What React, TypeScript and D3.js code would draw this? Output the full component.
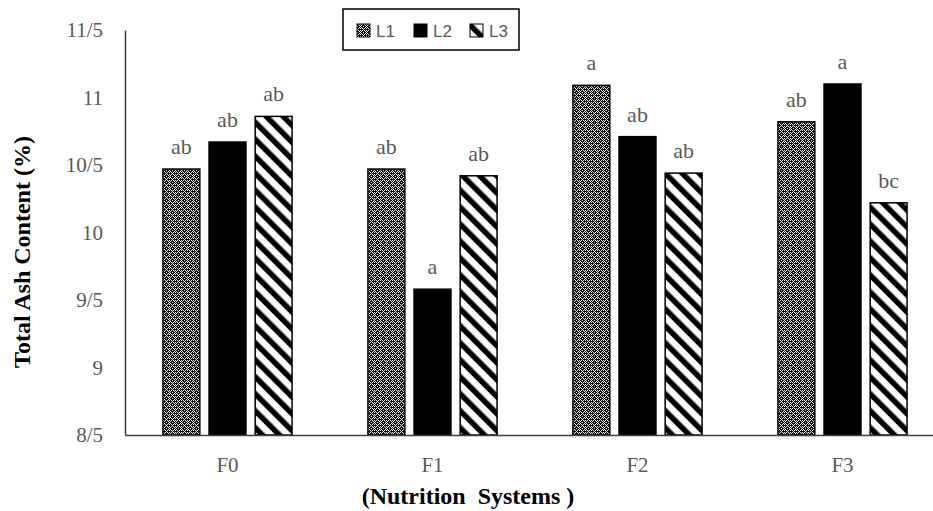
import React, { useEffect, useRef } from "react";
import * as d3 from "d3";

// data
const categories = ["F0", "F1", "F2", "F3"];
const seriesNames = ["L1", "L2", "L3"];
const L1 = [10.47, 10.47, 11.09, 10.82];
const L2 = [10.67, 9.58, 10.71, 11.1];
const L3 = [10.86, 10.42, 10.44, 10.22];
const L1Letters = ["ab", "ab", "a", "ab"];
const L2Letters = ["ab", "a", "ab", "a"];
const L3Letters = ["ab", "ab", "ab", "bc"];
const yTicks = [8.5, 9, 9.5, 10, 10.5, 11, 11.5];

const W = 933;
const H = 511;

const DrawChart = (element: any) => {
  d3.select(element).select("svg").remove();

  const svg = d3
    .select(element)
    .append("svg")
    .attr("width", W)
    .attr("height", H)
    .style("position", "absolute")
    .style("left", "0px")
    .style("top", "0px")
    .style("background", "#fff");

  const defs = svg.append("defs");

  // L1: dense lattice pattern
  const p1 = defs
    .append("pattern")
    .attr("id", "pat-l1")
    .attr("patternUnits", "userSpaceOnUse")
    .attr("width", 6)
    .attr("height", 6);
  p1.append("rect").attr("width", 6).attr("height", 6).attr("fill", "#000");
  const dots = [
    [0, 0], [2, 0], [4, 0],
    [1, 1], [5, 1],
    [0, 2], [3, 2],
    [1, 3], [5, 3],
    [0, 4], [2, 4], [4, 4],
    [3, 5],
  ];
  dots.forEach(([x, y]) => {
    p1.append("rect").attr("x", x).attr("y", y).attr("width", 1).attr("height", 1).attr("fill", "#fff");
  });

  // L3: wide downward diagonal stripes
  const p3 = defs
    .append("pattern")
    .attr("id", "pat-l3")
    .attr("patternUnits", "userSpaceOnUse")
    .attr("width", 12)
    .attr("height", 12)
    .attr("patternTransform", "rotate(-45)");
  p3.append("rect").attr("width", 12).attr("height", 12).attr("fill", "#fff");
  p3.append("rect").attr("x", 0).attr("y", 0).attr("width", 5.5).attr("height", 12).attr("fill", "#000");

  const fills = ["url(#pat-l1)", "#000", "url(#pat-l3)"];
  const values = [L1, L2, L3];
  const letters = [L1Letters, L2Letters, L3Letters];

  const x0 = d3.scaleBand().domain(categories).range([125, 945]).paddingInner(0.37).paddingOuter(0.185);
  const x1 = d3.scaleBand().domain(seriesNames).range([0, x0.bandwidth()]).paddingInner(0.2).paddingOuter(0);
  const y = d3.scaleLinear().domain([8.5, 11.5]).range([435, 30]);

  const serif = "'Liberation Serif', 'Times New Roman', serif";

  // y axis
  const yAxis = svg
    .append("g")
    .attr("transform", "translate(125,0)")
    .call(
      d3
        .axisLeft(y)
        .tickValues(yTicks)
        .tickSize(0)
        .tickPadding(22)
        .tickFormat((d: any) => String(d).replace(".", "/"))
    );
  yAxis.select(".domain").attr("stroke", "#404040").attr("stroke-width", 1.5);
  yAxis.selectAll("text").style("font-family", serif).style("font-size", "21px").attr("fill", "#595959");

  // bars
  const groups = svg
    .selectAll(".grp")
    .data(categories)
    .enter()
    .append("g")
    .attr("class", "grp")
    .attr("transform", (d) => `translate(${x0(d)},0)`);

  seriesNames.forEach((s, si) => {
    groups
      .append("rect")
      .attr("x", x1(s) as number)
      .attr("width", x1.bandwidth())
      .attr("y", (_d, i) => y(values[si][i]))
      .attr("height", (_d, i) => y(8.5) - y(values[si][i]))
      .attr("fill", fills[si])
      .attr("stroke", "#000")
      .attr("stroke-width", 1.5);

    groups
      .append("text")
      .attr("x", (x1(s) as number) + x1.bandwidth() / 2)
      .attr("y", (_d, i) => y(values[si][i]) - 15)
      .attr("text-anchor", "middle")
      .style("font-family", serif)
      .style("font-size", "22px")
      .attr("fill", "#595959")
      .text((_d, i) => letters[si][i]);
  });

  // x axis
  const xAxis = svg
    .append("g")
    .attr("transform", "translate(0,435)")
    .call(d3.axisBottom(x0).tickSize(0).tickPadding(22));
  xAxis.select(".domain").attr("stroke", "#404040").attr("stroke-width", 1.5);
  xAxis.selectAll("text").style("font-family", serif).style("font-size", "21px").attr("fill", "#595959");

  // axis titles
  svg
    .append("text")
    .attr("transform", "translate(30,252) rotate(-90)")
    .attr("text-anchor", "middle")
    .style("font-family", serif)
    .style("font-size", "24px")
    .style("font-weight", "bold")
    .attr("fill", "#000")
    .text("Total Ash Content (%)");

  svg
    .append("text")
    .attr("x", 468)
    .attr("y", 504)
    .attr("text-anchor", "middle")
    .style("font-family", serif)
    .style("font-size", "24px")
    .style("font-weight", "bold")
    .attr("fill", "#000")
    .style("white-space", "pre")
    .text("(Nutrition  Systems )");

  // legend
  const legend = svg.append("g");
  legend
    .append("rect")
    .attr("x", 343)
    .attr("y", 9)
    .attr("width", 176)
    .attr("height", 41)
    .attr("fill", "#fff")
    .attr("stroke", "#000")
    .attr("stroke-width", 1.5);
  const legX = [357, 414, 470];
  seriesNames.forEach((s, i) => {
    legend
      .append("rect")
      .attr("x", legX[i])
      .attr("y", 24)
      .attr("width", 13)
      .attr("height", 13)
      .attr("fill", fills[i])
      .attr("stroke", "#000")
      .attr("stroke-width", 1);
    legend
      .append("text")
      .attr("x", legX[i] + 19)
      .attr("y", 37)
      .style("font-family", "'Liberation Sans', Arial, sans-serif")
      .style("font-size", "17px")
      .attr("fill", "#595959")
      .text(s);
  });
};

export default function App() {
  const ref = useRef<HTMLDivElement>(null);
  useEffect(() => {
    DrawChart(ref.current);
  }, []);
  return <div ref={ref} style={{ width: W, height: H }} />;
}
